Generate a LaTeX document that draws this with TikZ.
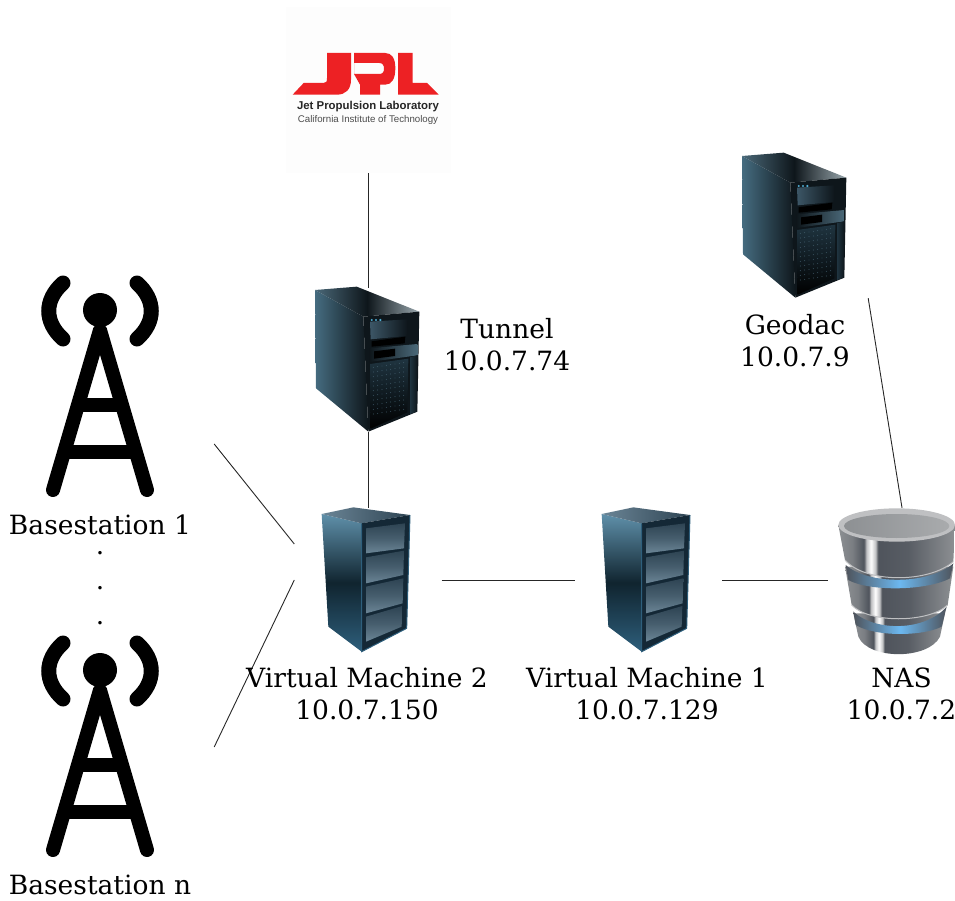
\documentclass[tikz,border=0pt]{standalone}
\usepackage{fontspec}
\setmainfont{DejaVu Serif}
\newfontfamily\logofont{Liberation Sans}
\definecolor{jplred}{HTML}{ED2124}
\definecolor{srvA}{HTML}{456C80}
\definecolor{srvB}{HTML}{1F3440}
\definecolor{srvC}{HTML}{0E161B}
\definecolor{srvD}{HTML}{9AA8AE}
\definecolor{srvE}{HTML}{3C5666}
\definecolor{srvF}{HTML}{4A6878}
\definecolor{rackA}{HTML}{5F90AA}
\definecolor{rackB}{HTML}{10242F}
\definecolor{rackC}{HTML}{2E5F7C}
\definecolor{rackD}{HTML}{142836}
\definecolor{rackE}{HTML}{6B8596}
\definecolor{rackF}{HTML}{2E4453}
\definecolor{nasB}{HTML}{4F545C}
\definecolor{nasD}{HTML}{6CB8F0}
\definecolor{nasE}{HTML}{BFC0C2}
\definecolor{nasF}{HTML}{8D9093}
\definecolor{nasG}{HTML}{A9ABAD}
\pgfdeclarehorizontalshading{nasbody}{100bp}{
  color(0bp)=(nasF); color(25bp)=(nasF); color(31bp)=(nasF!70!nasB); color(36bp)=(nasB);
  color(37bp)=(nasE); color(39bp)=(white); color(41bp)=(nasE); color(42bp)=(nasB);
  color(55bp)=(nasB!85!nasF); color(75bp)=(nasF); color(100bp)=(nasF)}
\tikzset{
  lbl/.style={font=\fontsize{26.5}{32}\selectfont,align=center,inner sep=0pt,text=black},
  box/.style={inner sep=0pt,minimum width=147pt,minimum height=144pt},
  link/.style={draw=black!85,line width=0.9pt},
  mast/.style={line width=14pt,line cap=round,line join=round,black},
  wave/.style={line width=15pt,line cap=round,black},
  logoline/.style={inner sep=0pt}
}
\newcommand{\mastIcon}[1]{%
  \begin{scope}[shift={(0,#1)}]
    \fill[black] (100,310) circle (17);
    \draw[mast] (53,490) -- (100,330) -- (147,490);
    \draw[mast,line cap=butt] (74,405) -- (126,405);
    \draw[mast,line cap=butt] (62,452) -- (138,452);
    \draw[wave] (63,283) .. controls (44,300) and (44,322) .. (63,339);
    \draw[wave] (137,283) .. controls (156,300) and (156,322) .. (137,339);
  \end{scope}}
\newcommand{\towerIcon}[2]{%
  \begin{scope}[shift={(#1+300,#2+280)},scale=1/3]
    \shade[left color=srvA,right color=srvC] (45,30) -- (190,110) -- (205,455) -- (48,325) -- cycle;
    \shade[left color=srvF,right color=srvD,middle color=srvC] (45,30) -- (170,20) -- (358,95) -- (190,110) -- cycle;
    \fill[srvC] (190,110) -- (358,95) -- (352,395) -- (205,455) -- cycle;
    \shade[left color=srvE,right color=srvC] (210,125) -- (322,118) -- (320,168) -- (212,178) -- cycle;
    \fill[black] (215,184) -- (316,170) -- (314,190) -- (215,200) -- cycle;
    \shade[left color=srvC,right color=srvF] (208,205) -- (352,192) -- (352,226) -- (208,246) -- cycle;
    \fill[black] (222,214) -- (285,206) -- (285,228) -- (222,236) -- cycle;
    \shade[left color=srvB,right color=srvC] (330,232) -- (352,226) -- (350,395) -- (330,402) -- cycle;
    \shade[top color=srvB,bottom color=black] (210,252) -- (325,236) -- (322,397) -- (212,446) -- cycle;
    \foreach \cx in {0,...,7}{\foreach \cy in {0,...,10}{
      \fill[srvF] ({220+\cx*13},{262-\cx*2+\cy*14}) circle (1.3);}}
    \foreach \cx in {215,228,241}{\fill[cyan!60!teal!80] (\cx,120) circle (3.5);}
  \end{scope}}
\newcommand{\rackIcon}[1]{%
  \begin{scope}[shift={(#1+310,500)},scale=1/3]
    \shade[top color=rackA,bottom color=rackC,middle color=rackB] (35,42) -- (155,70) -- (155,455) -- (55,380) -- cycle;
    \shade[left color=rackE,right color=rackF] (35,42) -- (130,22) -- (300,45) -- (155,70) -- cycle;
    \fill[rackD] (155,70) -- (300,45) -- (290,385) -- (155,455) -- cycle;
    \draw[rackC,line width=1pt] (155,70) -- (155,455) -- (290,385) -- (300,45);
    \shade[top color=rackF,bottom color=rackE,middle color=rackF!60!rackE] (168,85) -- (285,70) -- (282,145) -- (168,160) -- cycle;
    \shade[top color=rackF,bottom color=rackE,middle color=rackF!60!rackE] (168,172) -- (282,152) -- (280,225) -- (168,250) -- cycle;
    \shade[top color=rackF,bottom color=rackE,middle color=rackF!60!rackE] (168,260) -- (280,235) -- (278,310) -- (168,340) -- cycle;
    \shade[top color=rackF,bottom color=rackE,middle color=rackF!60!rackE] (168,350) -- (277,318) -- (275,380) -- (168,425) -- cycle;
  \end{scope}}
\newcommand{\nasIcon}{%
  \begin{scope}[shift={(825,500)},scale=1/3]
    \shade[shading=nasbody] (85,340) -- (100,410) .. controls (130,480) and (310,480) .. (345,410) -- (360,340) -- cycle;
    \shade[left color=nasB,right color=nasB,middle color=nasD] (85,335) .. controls (150,395) and (300,395) .. (365,320) -- (350,380) .. controls (290,410) and (150,410) .. (92,375) -- cycle;
    \shade[shading=nasbody] (60,200) -- (80,315) .. controls (130,370) and (310,370) .. (368,315) -- (385,200) -- cycle;
    \draw[nasE,line width=1pt] (80,315) .. controls (130,370) and (310,370) .. (368,315);
    \shade[left color=nasB,right color=nasB,middle color=nasD] (62,195) .. controls (130,255) and (310,255) .. (385,190) -- (375,235) .. controls (300,274) and (130,274) .. (70,240) -- cycle;
    \shade[shading=nasbody] (40,75) -- (60,180) .. controls (120,250) and (310,250) .. (385,185) -- (390,75) -- cycle;
    \draw[nasE,line width=1pt] (60,180) .. controls (120,250) and (310,250) .. (385,185);
    \fill[nasE] (215,75) ellipse (175 and 50);
    \shade[left color=nasF,right color=nasG] (215,78) ellipse (158 and 36);
  \end{scope}}
\begin{document}
\begin{tikzpicture}[x=1pt,y=-1pt]
\useasboundingbox (0,0) rectangle (955,901);
% frames of the icons, which the connectors join
\node[inner sep=0pt,minimum width=165pt,minimum height=166pt,fill=black!0.6] (jpl) at (368,90) {};
\node[box] (tunnel) at (368,360) {};
\node[box] (vm2) at (368,580) {};
\node[box] (vm1) at (648.5,580) {};
\node[box] (nas) at (902,580) {};
\node[box] (geodac) at (794.5,226) {};
\node[box,minimum width=228pt] (base1) at (100,385) {};
\node[box,minimum width=228pt] (basen) at (100,747) {};
% JPL logo
\begin{scope}[shift={(292,48)},scale=1/3]
  \fill[jplred] (105,15) -- (177,15) -- (177,95) .. controls (177,125) and (160,140) .. (135,140) -- (2,140) -- (35,105) -- (95,105) .. controls (103,105) and (105,100) .. (105,90) -- cycle;
  \fill[jplred,even odd rule] (186,15) -- (280,15) .. controls (300,15) and (310,32) .. (310,60) .. controls (310,92) and (300,110) .. (280,110) -- (264,110) -- (264,140) -- (204,140) -- (204,110) -- (186,78) -- cycle
     (186,45) -- (262,45) .. controls (272,45) and (276,52) .. (276,62) .. controls (276,72) and (272,78) .. (262,78) -- (186,78) -- cycle;
  \fill[jplred] (318,15) -- (362,15) -- (362,105) -- (405,105) -- (440,140) -- (318,140) -- cycle;
\end{scope}
\node[logoline,font=\logofont\bfseries\fontsize{11.4}{12}\selectfont,text=black!85] (jpltext) at (368,107) {Jet Propulsion Laboratory};
\node[logoline,font=\logofont\fontsize{9.7}{11}\selectfont,text=black!70] (jplsub) at (368,120) {California Institute of Technology};
% icons
\mastIcon{0}
\mastIcon{360}
\towerIcon{0}{0}
\towerIcon{427}{-134}
\rackIcon{0}
\rackIcon{280}
\nasIcon
% connectors
\draw[link] (jpl.south) -- (tunnel.north);
\draw[link] (tunnel.south) -- (vm2.north);
\draw[link] ([yshift=-59pt]base1.east) -- ([yshift=36pt]vm2.west);
\draw[link] (basen.east) -- (vm2.west);
\draw[link] (vm2.east) -- (vm1.west);
\draw[link] (vm1.east) -- (nas.west);
\draw[link] (geodac.south east) -- (nas.north);
% labels
\node[lbl] (ltunnel) at (507,345) {Tunnel\\10.0.7.74};
\node[lbl] (lgeodac) at (795,341) {Geodac\\10.0.7.9};
\node[lbl] (lbase1) at (100,525) {Basestation 1};
\node[lbl] (dota) at (100,553) {.};
\node[lbl] (dotb) at (100,588) {.};
\node[lbl] (dotc) at (100,623) {.};
\node[lbl] (lbasen) at (100,885) {Basestation n};
\node[lbl] (lvm2) at (367,694) {Virtual Machine 2\\10.0.7.150};
\node[lbl] (lvm1) at (647,694) {Virtual Machine 1\\10.0.7.129};
\node[lbl] (lnas) at (901.5,694) {NAS\\10.0.7.2};
\end{tikzpicture}
\end{document}
